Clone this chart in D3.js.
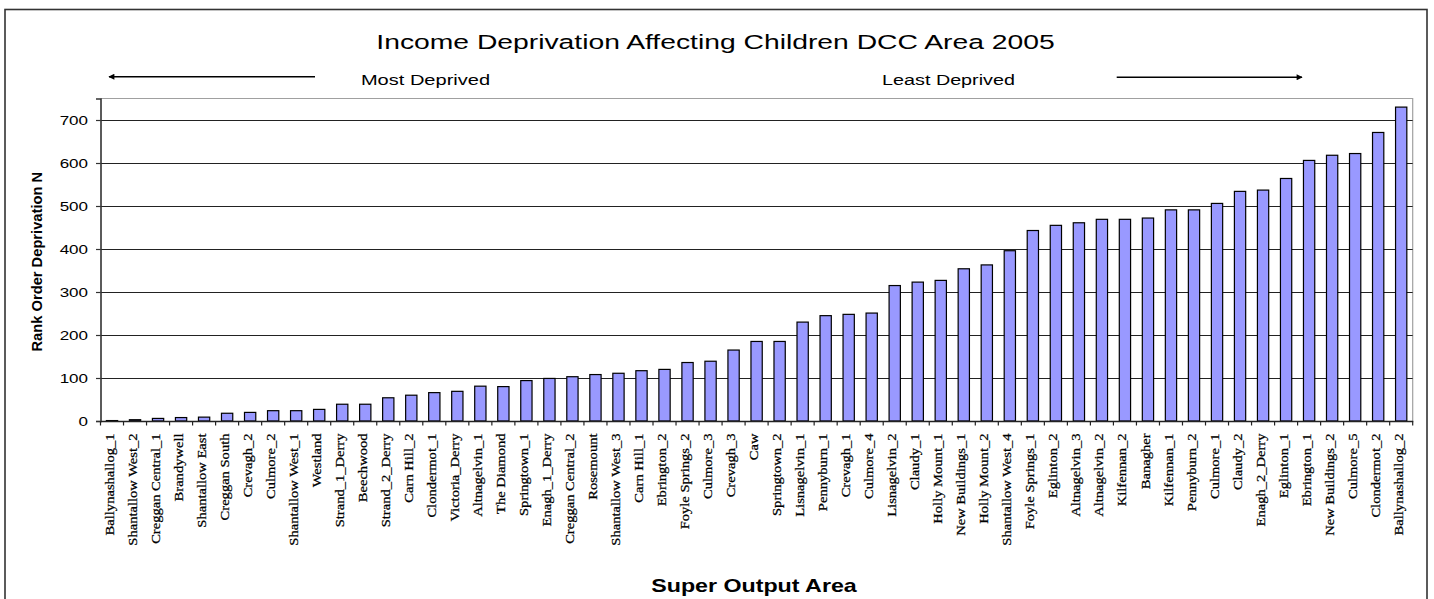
<!DOCTYPE html>
<html>
<head>
<meta charset="utf-8">
<script src="https://cdn.jsdelivr.net/npm/d3@7"></script>
<style>
  html, body { margin: 0; padding: 0; background: #ffffff; }
  svg { display: block; }
</style>
</head>
<body>
<svg id="chart" width="1434" height="599"></svg>
<script>
// ---- Data ----
const categories = [
  "Ballynashallog_1", "Shantallow West_2", "Creggan Central_1", "Brandywell", "Shantallow East",
  "Creggan South", "Crevagh_2", "Culmore_2", "Shantallow West_1", "Westland",
  "Strand_1_Derry", "Beechwood", "Strand_2_Derry", "Carn Hill_2", "Clondermot_1",
  "Victoria_Derry", "Altnagelvin_1", "The Diamond", "Springtown_1", "Enagh_1_Derry",
  "Creggan Central_2", "Rosemount", "Shantallow West_3", "Carn Hill_1", "Ebrington_2",
  "Foyle Springs_2", "Culmore_3", "Crevagh_3", "Caw", "Springtown_2",
  "Lisnagelvin_1", "Pennyburn_1", "Crevagh_1", "Culmore_4", "Lisnagelvin_2",
  "Claudy_1", "Holly Mount_1", "New Buildings_1", "Holly Mount_2", "Shantallow West_4",
  "Foyle Springs_1", "Eglinton_2", "Altnagelvin_3", "Altnagelvin_2", "Kilfennan_2",
  "Banagher", "Kilfennan_1", "Pennyburn_2", "Culmore_1", "Claudy_2",
  "Enagh_2_Derry", "Eglinton_1", "Ebrington_1", "New Buildings_2", "Culmore_5",
  "Clondermot_2", "Ballynashallog_2"
];
const values = [
  1, 3, 6, 8, 9,
  18, 20, 24, 24, 27,
  39, 39, 54, 60, 66,
  69, 81, 80, 94, 99,
  103, 108, 111, 117, 120,
  136, 139, 165, 185, 185,
  230, 245, 248, 251, 315,
  323, 327, 354, 363, 396,
  443, 455, 461, 469, 469,
  472, 491, 491, 506, 534,
  537, 564, 606, 618, 622,
  671, 730
];
const yTicks = [0, 100, 200, 300, 400, 500, 600, 700];
const yMax = 750;
const titleText = "Income Deprivation Affecting Children DCC Area 2005";
const leftNote = "Most Deprived";
const rightNote = "Least Deprived";
const yTitle = "Rank Order Deprivation N";
const xTitle = "Super Output Area";

// ---- Layout ----
const svg = d3.select("#chart");
const plot = { left: 100.5, right: 1412.7, top: 98.5, bottom: 421 };
const SANS = "'Liberation Sans', Arial, sans-serif";
const SERIF = "'Liberation Serif', 'Times New Roman', serif";

const x = d3.scaleBand().domain(categories).range([plot.left, plot.right]).paddingInner(0.51).paddingOuter(0.255);
const y = d3.scaleLinear().domain([0, yMax]).range([plot.bottom, plot.top]);

// outer frame
svg.append("rect")
  .attr("x", 5).attr("y", 9.5).attr("width", 1422).attr("height", 620)
  .attr("fill", "#fff").attr("stroke", "#333").attr("stroke-width", 1.6);

// plot area border (top and right, gray)
svg.append("path")
  .attr("d", `M${plot.left},${plot.top}H${plot.right}V${plot.bottom}`)
  .attr("fill", "none").attr("stroke", "#a0a0a0").attr("stroke-width", 1.2);

// gridlines
svg.append("g").selectAll("line").data(yTicks.filter(d => d > 0)).join("line")
  .attr("x1", plot.left).attr("x2", plot.right)
  .attr("y1", d => Math.round(y(d)) + 0.5).attr("y2", d => Math.round(y(d)) + 0.5)
  .attr("stroke", "#222").attr("stroke-width", 1);

// bars
svg.append("g").selectAll("rect").data(categories).join("rect")
  .attr("x", d => x(d))
  .attr("width", x.bandwidth())
  .attr("y", (d, i) => y(values[i]))
  .attr("height", (d, i) => y(0) - y(values[i]))
  .attr("fill", "#9999FF")
  .attr("stroke", "#000").attr("stroke-width", 1.2);

// y axis
const yAxis = svg.append("g")
  .attr("transform", `translate(${plot.left},0)`)
  .call(d3.axisLeft(y).tickValues(yTicks).tickSize(4.5).tickPadding(8).tickFormat(d3.format("d")));
yAxis.select(".domain").attr("stroke", "#333").attr("stroke-width", 1.6);
yAxis.selectAll(".tick line").attr("stroke", "#333").attr("stroke-width", 1.2);
yAxis.selectAll(".tick text").each(function () {
  const t = d3.select(this);
  const tx = +t.attr("x");
  t.attr("x", null).attr("dy", "0.358em")
    .attr("transform", `translate(${tx},0) scale(1.36,1)`)
    .attr("font-family", SANS).attr("font-size", 12.5).attr("fill", "#000");
});

// x axis
const xAxis = svg.append("g")
  .attr("transform", `translate(0,${plot.bottom})`)
  .call(d3.axisBottom(x).tickSize(0).tickFormat(""));
xAxis.select(".domain").attr("stroke", "#222").attr("stroke-width", 1.6);
xAxis.selectAll(".tick").remove();
// tick marks at band boundaries
const bounds = d3.range(categories.length + 1).map(i => plot.left + i * x.step());
xAxis.append("g").selectAll("line").data(bounds).join("line")
  .attr("x1", d => d).attr("x2", d => d).attr("y1", 0).attr("y2", 4.5)
  .attr("stroke", "#222").attr("stroke-width", 1.2);

// x category labels (rotated, serif)
svg.append("g").selectAll("text").data(categories).join("text")
  .attr("transform", d => `translate(${x(d) + x.bandwidth() / 2},433.5) rotate(-90) scale(1.12,1)`)
  .attr("text-anchor", "end")
  .attr("dy", "0.12em")
  .attr("font-family", SERIF).attr("font-size", 13).attr("fill", "#000")
  .attr("stroke", "#000").attr("stroke-width", 0.25)
  .text(d => d);

// title
svg.append("text")
  .attr("transform", "translate(715.5,49) scale(1.38,1)")
  .attr("text-anchor", "middle")
  .attr("font-family", SANS).attr("font-size", 20.5).attr("fill", "#000")
  .text(titleText);

// notes
svg.append("text")
  .attr("transform", "translate(425.5,84.5) scale(1.32,1)")
  .attr("text-anchor", "middle")
  .attr("font-family", SANS).attr("font-size", 15.2).attr("fill", "#000")
  .text(leftNote);
svg.append("text")
  .attr("transform", "translate(948.5,84.5) scale(1.3,1)")
  .attr("text-anchor", "middle")
  .attr("font-family", SANS).attr("font-size", 15.2).attr("fill", "#000")
  .text(rightNote);

// arrows
const defs = svg.append("defs");
defs.append("marker").attr("id", "ah").attr("viewBox", "0 0 10 10")
  .attr("refX", 9).attr("refY", 5).attr("markerWidth", 5).attr("markerHeight", 4)
  .attr("markerUnits", "strokeWidth").attr("orient", "auto-start-reverse")
  .append("path").attr("d", "M0,0L10,5L0,10Z").attr("fill", "#000");
svg.append("line").attr("x1", 315).attr("x2", 109).attr("y1", 76.7).attr("y2", 76.7)
  .attr("stroke", "#000").attr("stroke-width", 1.5).attr("marker-end", "url(#ah)");
svg.append("line").attr("x1", 1116.7).attr("x2", 1302).attr("y1", 77.3).attr("y2", 77.3)
  .attr("stroke", "#000").attr("stroke-width", 1.5).attr("marker-end", "url(#ah)");

// y axis title
svg.append("text")
  .attr("transform", "translate(41.7,261.7) rotate(-90) scale(1.05,1)")
  .attr("text-anchor", "middle")
  .attr("font-family", SANS).attr("font-weight", "bold").attr("font-size", 14).attr("fill", "#000")
  .text(yTitle);

// x axis title
svg.append("text")
  .attr("transform", "translate(754,592.3) scale(1.29,1)")
  .attr("text-anchor", "middle")
  .attr("font-family", SANS).attr("font-weight", "bold").attr("font-size", 18).attr("fill", "#000")
  .text(xTitle);
</script>
</body>
</html>
